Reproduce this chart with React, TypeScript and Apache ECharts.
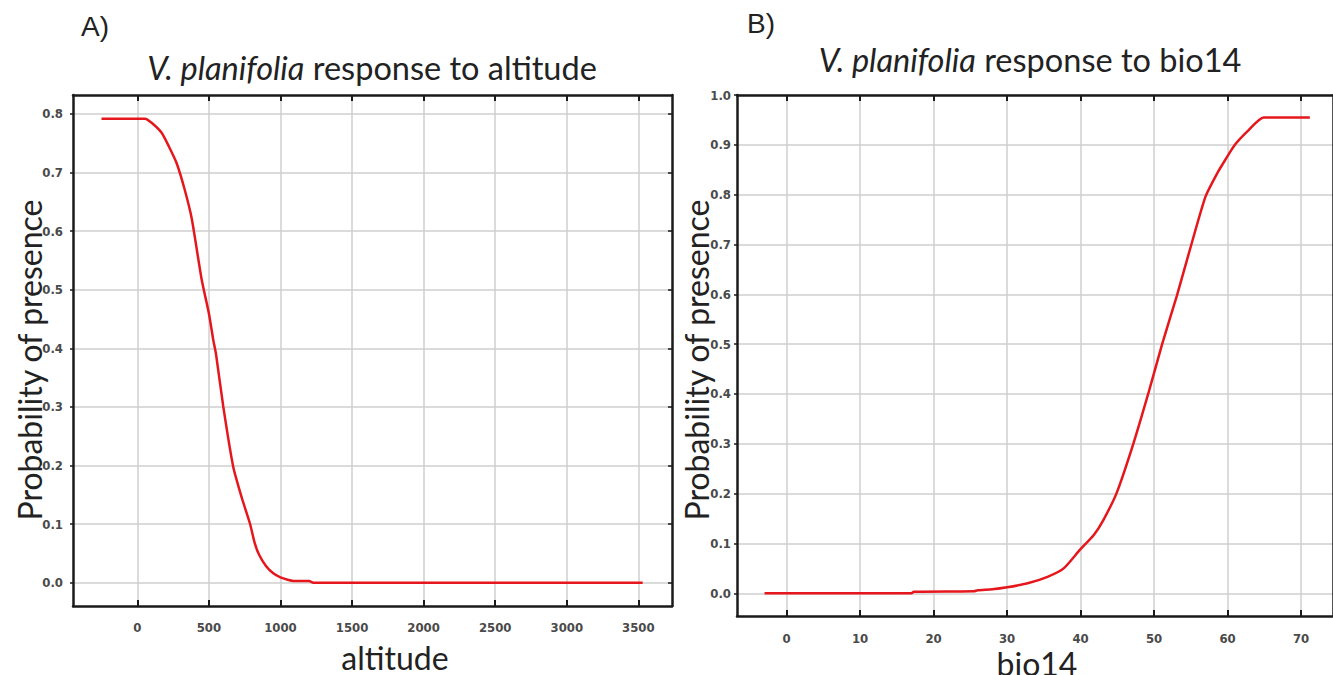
import React, { useEffect, useRef } from "react";
import * as echarts from "echarts";

// Panel A: response to altitude
const altitudeX = [-250, 54, 100, 170, 220, 275, 330, 380, 450, 500, 531, 550, 601, 670, 730, 787, 820, 850, 900, 950, 1000, 1050, 1090, 1200, 1230, 3530];
const altitudeY = [0.792, 0.792, 0.785, 0.768, 0.745, 0.716, 0.672, 0.622, 0.517, 0.46, 0.414, 0.39, 0.3, 0.198, 0.145, 0.101, 0.068, 0.048, 0.028, 0.016, 0.009, 0.005, 0.003, 0.003, 0.0, 0.0];

// Panel B: response to bio14
const bio14X = [-3, 17, 17.3, 25.5, 26, 28, 30, 32.8, 35.5, 37.7, 39.9, 41.8, 43.1, 44.9, 47.2, 49.2, 51.1, 53.1, 55, 57, 58.6, 59.7, 61, 62.7, 64.9, 71.2];
const bio14Y = [0, 0, 0.003, 0.004, 0.006, 0.008, 0.012, 0.02, 0.033, 0.05, 0.087, 0.117, 0.147, 0.201, 0.301, 0.4, 0.5, 0.597, 0.696, 0.796, 0.843, 0.87, 0.9, 0.927, 0.955, 0.955];

const altitudeTicks = [0, 500, 1000, 1500, 2000, 2500, 3000, 3500];
const bio14Ticks = [0, 10, 20, 30, 40, 50, 60, 70];
const probTicksA = [0, 0.1, 0.2, 0.3, 0.4, 0.5, 0.6, 0.7, 0.8];
const probTicksB = [0, 0.1, 0.2, 0.3, 0.4, 0.5, 0.6, 0.7, 0.8, 0.9, 1.0];

const panelLabels = ["A)", "B)"];
const titlesItalic = ["V. planifolia", "V. planifolia"];
const titlesRest = [" response to altitude", " response to bio14"];
const yName = "Probability of presence";
const xNames = ["altitude", "bio14"];

const AXIS = "#1a1a1a";
const GRID = "#cfcfcf";
const RED = "#e5161c";
const TICK_FONT = "'Liberation Sans Narrow', 'DejaVu Sans Condensed', 'Liberation Sans', sans-serif";
const LABEL_FONT = "Lato, 'Open Sans', sans-serif";

function tickLabel(margin: number, values: number[], fmt: (v: number) => string) {
  return {
    show: true,
    customValues: values,
    margin,
    fontSize: 13,
    fontWeight: "bold" as const,
    color: "#4a4a4a",
    fontFamily: TICK_FONT,
    formatter: (v: number) => fmt(v),
  };
}

export default function App() {
  const ref = useRef<HTMLDivElement>(null);
  useEffect(() => {
    if (!ref.current) return;
    const chart = echarts.init(ref.current, null, { renderer: "svg" });
    const axisLine = { show: true, onZero: false, lineStyle: { color: AXIS, width: 2.5 } };
    const splitLine = (vals: number[]) => ({ show: true, customValues: vals, lineStyle: { color: GRID, width: 1.5 } });

    const option: any = {
      animation: false,
      backgroundColor: "#ffffff",
      grid: [
        { left: 73, top: 95, width: 599, height: 511, containLabel: false },
        { left: 737, top: 95, width: 601, height: 521, containLabel: false },
      ],
      xAxis: [
        {
          type: "value", gridIndex: 0, position: "bottom", min: -449, max: 3735,
          axisLine,
          axisTick: { show: true, inside: true, length: 6, customValues: altitudeTicks, lineStyle: { color: AXIS, width: 2 } },
          axisLabel: tickLabel(15, altitudeTicks, (v) => String(v)),
          splitLine: splitLine(altitudeTicks),
        },
        {
          type: "value", gridIndex: 0, position: "top", min: -449, max: 3735,
          axisLine,
          axisTick: { show: true, inside: true, length: 6, customValues: altitudeTicks, lineStyle: { color: AXIS, width: 2 } },
          axisLabel: { show: false },
          splitLine: { show: false },
        },
        {
          type: "value", gridIndex: 1, position: "bottom", min: -6.75, max: 74.35,
          axisLine,
          axisTick: { show: true, inside: true, length: 6, customValues: bio14Ticks, lineStyle: { color: AXIS, width: 2 } },
          axisLabel: tickLabel(16, bio14Ticks, (v) => String(v)),
          splitLine: splitLine(bio14Ticks),
        },
        {
          type: "value", gridIndex: 1, position: "top", min: -6.75, max: 74.35,
          axisLine,
          axisTick: { show: true, inside: true, length: 6, customValues: bio14Ticks, lineStyle: { color: AXIS, width: 2 } },
          axisLabel: { show: false },
          splitLine: { show: false },
        },
      ],
      yAxis: [
        {
          type: "value", gridIndex: 0, position: "left", min: -0.0398, max: 0.8324,
          axisLine,
          axisTick: { show: true, inside: false, length: 3, customValues: probTicksA, lineStyle: { color: AXIS, width: 1.5 } },
          axisLabel: tickLabel(10, probTicksA, (v) => v.toFixed(1)),
          splitLine: splitLine(probTicksA),
        },
        {
          type: "value", gridIndex: 0, position: "right", min: -0.0398, max: 0.8324,
          axisLine,
          axisTick: { show: true, inside: true, length: 4, customValues: probTicksA, lineStyle: { color: AXIS, width: 1.5 } },
          axisLabel: { show: false },
          splitLine: { show: false },
        },
        {
          type: "value", gridIndex: 1, position: "left", min: -0.0456, max: 1.0,
          axisLine,
          axisTick: { show: true, inside: false, length: 3, customValues: probTicksB, lineStyle: { color: AXIS, width: 1.5 } },
          axisLabel: tickLabel(6, probTicksB, (v) => v.toFixed(1)),
          splitLine: splitLine(probTicksB),
        },
        {
          type: "value", gridIndex: 1, position: "right", min: -0.0456, max: 1.0,
          axisLine,
          axisTick: { show: false },
          axisLabel: { show: false },
          splitLine: { show: false },
        },
      ],
      series: [
        {
          type: "line", xAxisIndex: 0, yAxisIndex: 0, showSymbol: false, smooth: 0.2,
          lineStyle: { color: RED, width: 2.5 },
          data: altitudeX.map((x, i) => [x, altitudeY[i]]),
        },
        {
          type: "line", xAxisIndex: 2, yAxisIndex: 2, showSymbol: false, smooth: 0.2,
          lineStyle: { color: RED, width: 2.5 },
          data: bio14X.map((x, i) => [x, bio14Y[i]]),
        },
      ],
      graphic: [
        { type: "text", left: 81, top: 12, style: { text: panelLabels[0], fontSize: 28, fontFamily: "'Liberation Sans', Arial, sans-serif", fill: "#222" } },
        { type: "text", left: 747, top: 9, style: { text: panelLabels[1], fontSize: 28, fontFamily: "'Liberation Sans', Arial, sans-serif", fill: "#222" } },
        {
          type: "text", x: 372, y: 67,
          style: {
            text: `{i|${titlesItalic[0]}}${titlesRest[0]}`, align: "center", verticalAlign: "middle",
            fontSize: 32.5, fontFamily: LABEL_FONT, fill: "#222",
            rich: { i: { fontStyle: "italic", fontSize: 32.5, fontFamily: LABEL_FONT, fill: "#222" } },
          },
        },
        {
          type: "text", x: 1030, y: 59,
          style: {
            text: `{i|${titlesItalic[1]}}${titlesRest[1]}`, align: "center", verticalAlign: "middle",
            fontSize: 32.5, fontFamily: LABEL_FONT, fill: "#222",
            rich: { i: { fontStyle: "italic", fontSize: 32.5, fontFamily: LABEL_FONT, fill: "#222" } },
          },
        },
        { type: "text", x: 29, y: 360, rotation: Math.PI / 2, style: { text: yName, align: "center", verticalAlign: "middle", fontSize: 32, fontFamily: LABEL_FONT, fill: "#222" } },
        { type: "text", x: 696, y: 360, rotation: Math.PI / 2, style: { text: yName, align: "center", verticalAlign: "middle", fontSize: 32, fontFamily: LABEL_FONT, fill: "#222" } },
        { type: "text", x: 395, y: 657, style: { text: xNames[0], align: "center", verticalAlign: "middle", fontSize: 32, fontFamily: LABEL_FONT, fill: "#222" } },
        { type: "text", x: 1037, y: 663, style: { text: xNames[1], align: "center", verticalAlign: "middle", fontSize: 32, fontFamily: LABEL_FONT, fill: "#222" } },
      ],
    };
    chart.setOption(option);
    return () => chart.dispose();
  }, []);
  return (
    <div
      ref={ref}
      style={{ position: "absolute", left: 0, top: 0, width: 1333, height: 675, background: "#fff", overflow: "hidden" }}
    />
  );
}
